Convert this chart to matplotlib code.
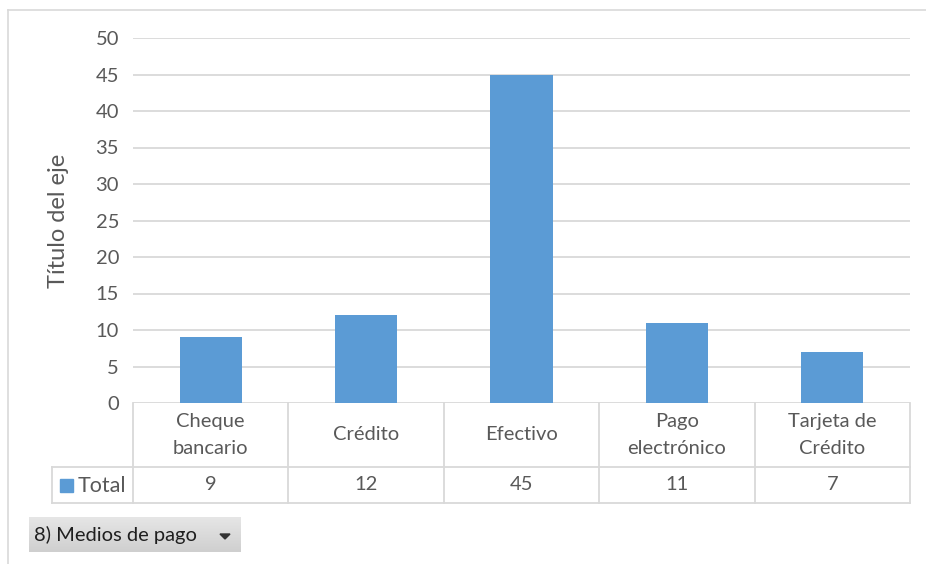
import matplotlib
matplotlib.use("Agg")
import matplotlib.pyplot as plt
from matplotlib.patches import Rectangle, Polygon
from matplotlib.lines import Line2D
import numpy as np

categories = ["Cheque\nbancario", "Crédito", "Efectivo", "Pago\nelectrónico", "Tarjeta de\nCrédito"]
totals = [9, 12, 45, 11, 7]
yticks = [0, 5, 10, 15, 20, 25, 30, 35, 40, 45, 50]
series_name = "Total"
axis_title = "Título del eje"
field_button = "8) Medios de pago"

BAR = "#5b9bd5"
GRID = "#d9d9d9"
TXT = "#595959"
FONT = ["Lato", "DejaVu Sans"]
FS = 14.5

W, H = 926, 564
fig = plt.figure(figsize=(W / 100, H / 100), dpi=100)
plt.rcParams["font.family"] = FONT


def fx(px):
    return px / W


def fy(py):
    return 1 - py / H


# chart area border (left and top edges visible)
fig.add_artist(Line2D([fx(8), fx(8)], [fy(10), fy(564)], color=GRID, lw=1.2))
fig.add_artist(Line2D([fx(8), fx(926)], [fy(10), fy(10)], color=GRID, lw=1.2))

x0, x1 = 133, 910
y_top, y_zero = 38, 403
ax = fig.add_axes([fx(x0), fy(y_zero), fx(x1 - x0), (y_zero - y_top) / H])
x = np.arange(len(categories))
ax.bar(x, totals, width=0.4, color=BAR, zorder=3)
ax.set_xlim(-0.5, len(categories) - 0.5)
ax.set_ylim(0, 50)
ax.set_yticks(yticks)
ax.set_yticklabels([str(v) for v in yticks], fontsize=FS, color=TXT)
ax.set_xticks([])
ax.tick_params(axis="y", length=0, pad=10)
for s in ax.spines.values():
    s.set_visible(False)
ax.grid(axis="y", color=GRID, lw=1.3, zorder=0)
ax.set_axisbelow(True)
ax.set_ylabel(axis_title, fontsize=17, color=TXT)
ax.yaxis.set_label_coords(-(x0 - 69) / (x1 - x0), 0.5)

# data table below the plot
cell_w = (x1 - x0) / len(categories)
row1_bot, row2_bot = 467, 503
left_col = 52
lw_t = 1.3
fig.add_artist(Line2D([fx(left_col), fx(x1)], [fy(row1_bot)] * 2, color=GRID, lw=lw_t))
fig.add_artist(Line2D([fx(left_col), fx(x1)], [fy(row2_bot)] * 2, color=GRID, lw=lw_t))
fig.add_artist(Line2D([fx(left_col)] * 2, [fy(row1_bot), fy(row2_bot)], color=GRID, lw=lw_t))
for i in range(len(categories) + 1):
    xp = x0 + i * cell_w
    fig.add_artist(Line2D([fx(xp)] * 2, [fy(y_zero), fy(row2_bot)], color=GRID, lw=lw_t))
for i, (cat, val) in enumerate(zip(categories, totals)):
    cx = x0 + (i + 0.5) * cell_w
    fig.text(fx(cx), fy((y_zero + row1_bot) / 2), cat, ha="center", va="center",
             fontsize=FS, color=TXT, linespacing=1.75)
    fig.text(fx(cx), fy((row1_bot + row2_bot) / 2), str(val), ha="center", va="center",
             fontsize=FS, color=TXT)

# legend key in the table
fig.add_artist(Rectangle((fx(60), fy(492)), fx(13), 13 / H, color=BAR))
fig.text(fx(78), fy(486), series_name, ha="left", va="center", fontsize=15.5, color=TXT)

# field button
bx0, bx1, by0, by1 = 29, 241, 517, 552
grad = np.linspace(0, 1, 64).reshape(-1, 1)
bax = fig.add_axes([fx(bx0), fy(by1), fx(bx1 - bx0), (by1 - by0) / H])
bax.imshow(grad, cmap=matplotlib.colors.LinearSegmentedColormap.from_list(
    "btn", ["#e6e6e6", "#cfcfcf"]), aspect="auto", extent=(0, 1, 0, 1), origin="upper")
bax.set_xlim(0, 1)
bax.set_ylim(0, 1)
bax.axis("off")
fig.text(fx(34), fy(535), field_button, ha="left", va="center", fontsize=14.5, color="#1f1f1f")
fig.add_artist(Polygon([(fx(220), fy(534)), (fx(230), fy(534)), (fx(225), fy(539))],
                       closed=True, color="#333333"))

fig.savefig("out.png", dpi=100)
